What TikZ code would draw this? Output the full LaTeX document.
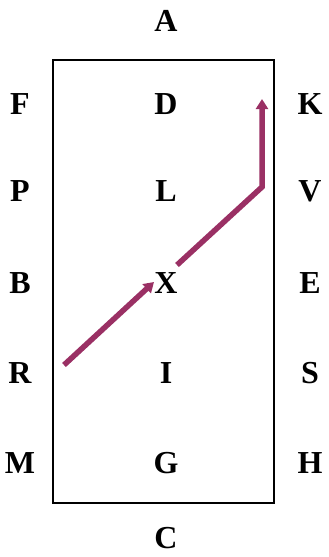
\documentclass[tikz,border=0pt]{standalone}
\usepackage{fontspec}
\setmainfont{Liberation Serif}
\usepackage{tikz}
\usetikzlibrary{arrows.meta,calc,positioning}
\definecolor{plum}{RGB}{154,48,100}
\tikzset{
  lbl/.style={font=\fontsize{32}{32}\selectfont\bfseries,inner sep=0pt,anchor=center},
  frame/.style={draw,line width=2pt},
  path/.style={-{Triangle[length=10pt,width=12pt]},line width=5.5pt,draw=plum,line join=miter}
}
\begin{document}
\begin{tikzpicture}[x=1pt,y=-1pt]
\useasboundingbox (0,0) rectangle (329,557);
% box
\draw[frame] (53,60) rectangle (274,503);
% centre column
\node[lbl] (A) at (166,21) {A};
\node[lbl] (D) at (166,104) {D};
\node[lbl] (L) at (166,191) {L};
\node[lbl] (X) at (166,283) {X};
\node[lbl] (I) at (166,373) {I};
\node[lbl] (G) at (166,463) {G};
\node[lbl] (C) at (166,538) {C};
% left column
\node[lbl] (F) at (20,104) {F};
\node[lbl] (P) at (20,191) {P};
\node[lbl] (B) at (20,283) {B};
\node[lbl] (R) at (20,373) {R};
\node[lbl] (M) at (20,463) {M};
% right column
\node[lbl] (K) at (310,104) {K};
\node[lbl] (V) at (310,191) {V};
\node[lbl] (E) at (310,283) {E};
\node[lbl] (S) at (310,373) {S};
\node[lbl] (H) at (310,463) {H};
% route
\coordinate (r0) at (64,365);
\coordinate (r1) at (154,282);
\coordinate (v0) at (177,265);
\coordinate (v1) at (262,187);
\coordinate (v2) at (262,99);
\draw[path] (r0) -- (r1);
\draw[path] (v0) -- (v1) -- (v2);
\end{tikzpicture}
\end{document}
